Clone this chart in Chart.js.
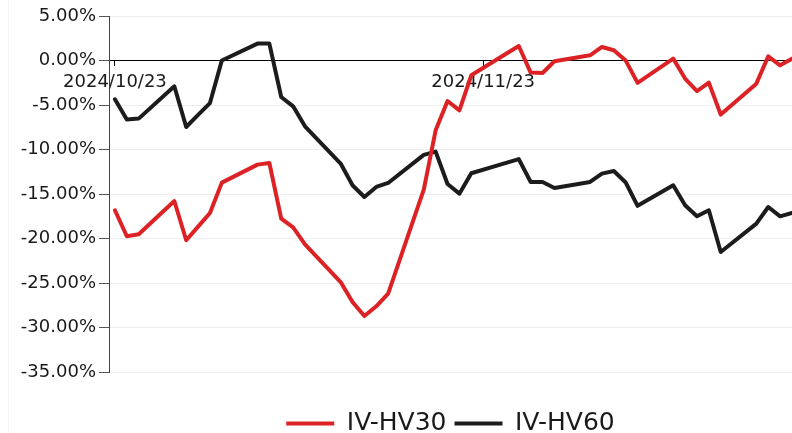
<!DOCTYPE html>
<html>
<head>
<meta charset="utf-8">
<script src="https://cdn.jsdelivr.net/npm/chart.js@4.4.1/dist/chart.umd.min.js"></script>
<style>
html, body { margin: 0; padding: 0; background: #ffffff; overflow: hidden; }
#wrap { position: relative; width: 792px; height: 446px; }
#frame { position: absolute; left: 8px; top: 0; width: 1px; height: 446px; background: #f3f3f3; }
</style>
</head>
<body>
<div id="wrap"><div id="frame"></div><canvas id="c"></canvas></div>
<script>
// ---- data ----
const dates = [
  '2024/10/23','2024/10/24','2024/10/25','2024/10/28','2024/10/29','2024/10/30','2024/10/31',
  '2024/11/01','2024/11/04','2024/11/05','2024/11/06','2024/11/07','2024/11/08','2024/11/11',
  '2024/11/12','2024/11/13','2024/11/14','2024/11/15','2024/11/18','2024/11/19','2024/11/20',
  '2024/11/21','2024/11/22','2024/11/25','2024/11/26','2024/11/27','2024/11/28','2024/11/29',
  '2024/12/02','2024/12/03','2024/12/04','2024/12/05','2024/12/06','2024/12/09','2024/12/10',
  '2024/12/11','2024/12/12','2024/12/13','2024/12/16','2024/12/17','2024/12/18','2024/12/19'
];
// values in percent
const ivHv30 = [
  -16.83,-19.75,-19.53,-15.79,-20.20,-18.66,-17.13,
  -13.72,-11.70,-11.52,-17.76,-18.74,-20.65,-24.89,
  -27.13,-28.71,-27.62,-26.19,-14.51,-7.84,-4.55,
  -5.60,-1.66,0.81,1.63,-1.36,-1.40,-0.09,
  0.58,1.52,1.15,-0.01,-2.51,0.21,-2.03,
  -3.43,-2.48,-6.08,-2.60,0.47,-0.54,0.21
];
const ivHv60 = [
  -4.36,-6.64,-6.53,-2.90,-7.47,-6.12,-4.78,
  0.00,1.90,1.90,-4.10,-5.15,-7.39,-11.58,
  -14.02,-15.34,-14.21,-13.76,-10.60,-10.24,-13.88,
  -14.96,-12.67,-11.48,-11.08,-13.65,-13.65,-14.33,
  -13.65,-12.71,-12.42,-13.71,-16.33,-14.02,-16.27,
  -17.51,-16.83,-21.52,-18.33,-16.46,-17.51,-17.13
];
const seriesNames = ['IV-HV30', 'IV-HV60'];
const xTickLabels = ['2024/10/23', '2024/11/23'];
const yTickValues = [5, 0, -5, -10, -15, -20, -25, -30, -35];

// ---- helpers ----
function dayIndex(s) {
  const p = s.split('/').map(Number);
  const b = dates[0].split('/').map(Number);
  return Math.round((Date.UTC(p[0], p[1] - 1, p[2]) - Date.UTC(b[0], b[1] - 1, b[2])) / 86400000);
}
const RED = '#dd2226';
const BLACK = '#1c1c1c';
const FONT = 'DejaVu Sans';

const pts = arr => dates.map((d, i) => ({ x: dayIndex(d), y: arr[i] }));

new Chart(document.getElementById('c'), {
  type: 'line',
  data: {
    datasets: [
      { label: seriesNames[0], data: pts(ivHv30), xAxisID: 'x', yAxisID: 'y',
        borderColor: RED, backgroundColor: RED,
        borderWidth: 4, pointRadius: 0, tension: 0, borderJoinStyle: 'round', borderCapStyle: 'round' },
      { label: seriesNames[1], data: pts(ivHv60), xAxisID: 'x', yAxisID: 'y',
        borderColor: BLACK, backgroundColor: BLACK,
        borderWidth: 4, pointRadius: 0, tension: 0, borderJoinStyle: 'round', borderCapStyle: 'round' }
    ]
  },
  options: {
    responsive: true,
    maintainAspectRatio: false,
    animation: false,
    layout: { padding: { top: 16, right: 0, bottom: 0, left: 0 } },
    plugins: {
      tooltip: { enabled: false },
      legend: {
        position: 'bottom',
        fullSize: false,
        labels: {
          boxWidth: 48,
          boxHeight: 4,
          padding: 8,
          color: '#1a1a1a',
          font: { family: FONT, size: 25 },
          generateLabels: chart => Chart.defaults.plugins.legend.labels.generateLabels(chart)
            .map(l => Object.assign({}, l, { lineWidth: 0, fillStyle: l.strokeStyle }))
        }
      }
    },
    scales: {
      x: {
        type: 'linear',
        position: { y: 0 },
        min: -0.5,
        max: 57,
        afterBuildTicks: s => { s.ticks = xTickLabels.map(d => ({ value: dayIndex(d) })); },
        afterFit: s => { s.paddingLeft = 0; s.paddingRight = 0; },
        ticks: {
          autoSkip: false,
          maxRotation: 0,
          padding: 6,
          color: '#1a1a1a',
          font: { family: FONT, size: 18 },
          callback: v => {
            const hit = xTickLabels.find(d => dayIndex(d) === v);
            return hit || '';
          }
        },
        grid: { drawOnChartArea: false, drawTicks: true, tickLength: 5, color: '#000' },
        border: { color: '#000', width: 1 }
      },
      // empty bottom band between the plot and the legend
      xGap: {
        type: 'linear',
        position: 'bottom',
        min: 0,
        max: 1,
        display: true,
        ticks: { display: false },
        grid: { display: false, drawTicks: false },
        border: { display: false },
        afterFit: s => { s.height = 31; s.paddingLeft = 0; s.paddingRight = 0; }
      },
      y: {
        min: -35,
        max: 5,
        afterBuildTicks: s => { s.ticks = yTickValues.map(v => ({ value: v })); },
        afterFit: s => { s.width = 109; },
        ticks: {
          padding: 3,
          color: '#1a1a1a',
          font: { family: FONT, size: 18 },
          callback: v => v.toFixed(2) + '%'
        },
        grid: { color: '#eeeeee', tickColor: '#555', tickLength: 10, lineWidth: 1 },
        border: { color: '#444', width: 1 }
      }
    }
  }
});
</script>
</body>
</html>
